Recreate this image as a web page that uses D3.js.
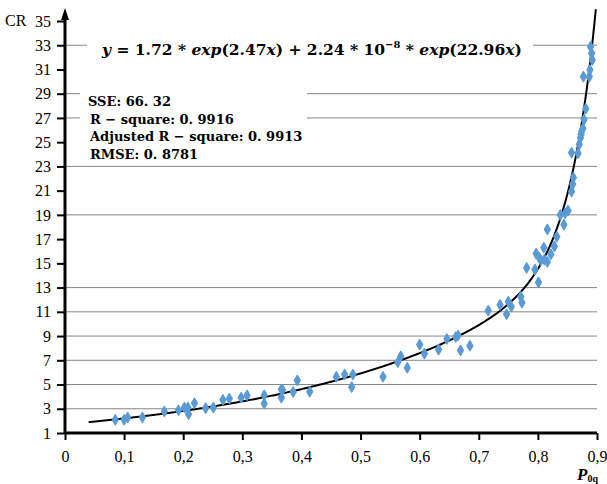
<!DOCTYPE html>
<html>
<head>
<meta charset="utf-8">
<script src="https://cdn.jsdelivr.net/npm/d3@7"></script>
<style>
  body { margin: 0; background: #fff; }
  svg { display: block; }
  .eq { font-family: "DejaVu Serif", serif; font-weight: bold; fill: #000; }
</style>
</head>
<body>
<div id="viz"></div>
<script>
const width = 607
const height = 484

// measured points (P0q, CR)
const p0q = [0.085,0.100,0.106,0.131,0.168,0.192,0.202,0.208,0.209,0.219,0.238,0.251,0.267,0.278,0.298,0.308,
  0.337,0.337,0.366,0.368,0.366,0.386,0.393,0.414,0.459,0.473,0.487,0.485,0.538,0.563,0.568,0.579,0.600,0.608,0.632,0.646,
  0.661,0.665,0.669,0.685,0.716,0.736,0.747,0.750,0.755,0.771,0.773,0.781,0.795,0.801,0.797,0.802,0.805,0.811,0.816,0.822,
  0.810,0.828,0.832,0.816,0.844,0.838,0.846,0.851,0.857,0.859,0.860,0.857,0.868,0.870,0.872,0.873,0.874,0.876,0.878,0.881,
  0.877,0.887,0.888,0.892,0.891,0.889]
const cr = [2.09,2.09,2.28,2.28,2.78,2.88,3.10,3.10,2.56,3.46,3.05,3.10,3.73,3.84,3.92,4.11,
  4.11,3.43,4.60,4.55,3.92,4.38,5.34,4.41,5.64,5.83,5.83,4.79,5.64,6.84,7.33,6.38,8.29,7.55,7.88,8.76,
  8.92,9.05,7.82,8.20,11.10,11.57,10.80,11.84,11.43,12.25,11.76,14.63,14.50,13.43,15.80,15.48,15.26,15.31,15.12,15.75,
  16.30,16.40,17.20,17.80,18.20,19.00,19.13,19.35,20.93,21.54,22.08,24.13,24.08,24.82,25.36,25.64,25.90,26.13,26.86,27.76,
  30.41,30.41,30.96,31.78,32.32,32.87]

const xTicks = [0,0.1,0.2,0.3,0.4,0.5,0.6,0.7,0.8,0.9]
const yTicks = [1,3,5,7,9,11,13,15,17,19,21,23,25,27,29,31,33,35]
const gridValues = [3,5,7,9,11,13,19,23,27,29,33]

// fitted model coefficients
const fitA = 1.72, fitB = 2.47, fitC = 2.24e-8, fitD = 22.96
const fit = x => fitA*Math.exp(fitB*x) + fitC*Math.exp(fitD*x)

const statLines = ["SSE: 66. 32", "R \u2212 square: 0. 9916", "Adjusted R \u2212 square: 0. 9913", "RMSE: 0. 8781"]

const serif = "Liberation Serif, Times New Roman, serif"

const xScale = d3.scaleLinear().domain([0,0.9]).range([65,597])
const yScale = d3.scaleLinear().domain([1,35]).range([433,21])

const svg = d3.select("#viz").append("svg")
  .attr("width", width).attr("height", height)

// grid lines
svg.append("g").selectAll("line")
  .data(gridValues)
  .enter().append("line")
  .attr("x1", xScale(0)).attr("x2", xScale(0.9))
  .attr("y1", d => yScale(d)).attr("y2", d => yScale(d))
  .attr("stroke", "#868686").attr("stroke-width", 1)

// white boxes behind the texts
svg.append("rect").attr("x", 87).attr("y", 28).attr("width", 446).attr("height", 52).attr("fill", "#fff")
svg.append("rect").attr("x", 80).attr("y", 85).attr("width", 227).attr("height", 66).attr("fill", "#fff")

// fitted curve
const curveX = d3.range(0.04, 0.9001, 0.002).filter(x => fit(x) <= 36.1)
svg.append("path")
  .datum(curveX)
  .attr("fill", "none")
  .attr("stroke", "#000")
  .attr("stroke-width", 2)
  .attr("d", d3.line().x(d => xScale(d)).y(d => yScale(fit(d))))

// points
svg.append("g").selectAll("path")
  .data(p0q)
  .enter().append("path")
  .attr("transform", (d,i) => "translate(" + xScale(d) + "," + yScale(cr[i]) + ")")
  .attr("d", d3.symbol().type(d3.symbolDiamond).size(28))
  .attr("fill", "#5b9bd5")
  .attr("stroke", "#5b9bd5")
  .attr("stroke-width", 1.5)
  .attr("stroke-linejoin", "round")

// axes
const xAxisG = svg.append("g")
  .attr("transform", "translate(0," + yScale(1) + ")")
  .call(d3.axisBottom(xScale).tickValues(xTicks).tickSize(7).tickFormat(d => d3.format(".1f")(d).replace(".", ",").replace(/^0,0$/, "0")))
xAxisG.select(".domain").attr("stroke-width", 3).attr("d", "M" + xScale(0) + ",0H" + xScale(0.9))
xAxisG.selectAll(".tick line").attr("stroke-width", 2)
xAxisG.selectAll(".tick text").attr("dy", "1.2em")
  .style("font-family", serif).style("font-size", "16px")

const yAxisG = svg.append("g")
  .attr("transform", "translate(" + xScale(0) + ",0)")
  .call(d3.axisLeft(yScale).tickValues(yTicks).tickSize(8).tickFormat(d => d))
yAxisG.select(".domain").attr("stroke-width", 3).attr("d", "M0," + yScale(1) + "V14")
yAxisG.selectAll(".tick line").attr("stroke-width", 2)
yAxisG.selectAll(".tick text").attr("x", -14)
  .style("font-family", serif).style("font-size", "16px")

// arrow head on y axis
svg.append("path")
  .attr("d", "M" + xScale(0) + ",8 l-4,12 l8,0 z")
  .attr("fill", "#000")

// axis titles
svg.append("text").attr("x", 5).attr("y", yScale(35) + 5)
  .style("font-family", serif).style("font-size", "16px").text("CR")
const px = svg.append("text").attr("x", 577).attr("y", 480)
  .style("font-family", serif).style("font-weight", "bold").style("font-style", "italic").style("font-size", "17px")
px.append("tspan").text("P")
px.append("tspan").attr("font-size", "10px").attr("font-style", "normal").attr("dy", 2).text("0q")

// equation
const eq = svg.append("text").attr("class", "eq").attr("x", 102).attr("y", 55).style("font-size", "15.5px")
const eqParts = [["y", true], [" = 1.72 * ", false], ["exp", true], ["(2.47", false], ["x", true], [") + 2.24 * 10", false]]
eqParts.forEach(p => eq.append("tspan").attr("font-style", p[1] ? "italic" : "normal").text(p[0]))
eq.append("tspan").attr("font-size", "10px").attr("dy", -7).text("\u22128")
eq.append("tspan").attr("dy", 7).text(" * ")
const eqParts2 = [["exp", true], ["(22.96", false], ["x", true], [")", false]]
eqParts2.forEach(p => eq.append("tspan").attr("font-style", p[1] ? "italic" : "normal").text(p[0]))

// goodness of fit
svg.append("g").selectAll("text")
  .data(statLines)
  .enter().append("text")
  .attr("x", (d,i) => i == 0 ? 88 : 90)
  .attr("y", (d,i) => 106 + i*17.5)
  .style("font-family", "DejaVu Serif, serif")
  .style("font-weight", "bold")
  .style("font-size", "13px")
  .text(d => d)
</script>
</body>
</html>
